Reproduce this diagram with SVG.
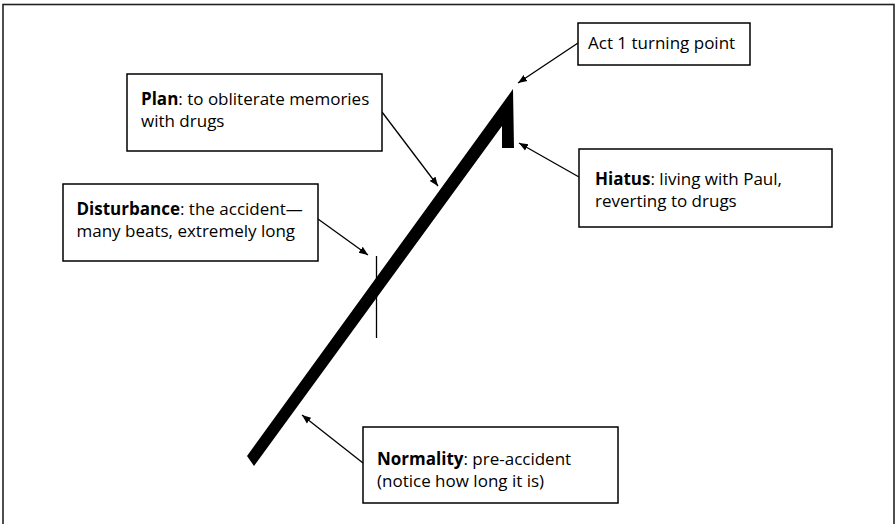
<svg xmlns="http://www.w3.org/2000/svg" width="895" height="524" viewBox="0 0 895 524">
  <defs>
    <marker id="arrow" viewBox="0 0 10 10" refX="10" refY="5" markerWidth="9" markerHeight="9" markerUnits="userSpaceOnUse" orient="auto">
      <path d="M0,1 L10,5 L0,9 Z" fill="#000"/>
    </marker>
  </defs>
  <style>
    .box { fill: #fff; stroke: #000; stroke-width: 1.5; }
    .lbl { font-family: "Open Sans", "Noto Sans", sans-serif; font-size: 17px; fill: #000; }
    .lbl tspan.b { font-weight: bold; }
    .conn { stroke: #000; stroke-width: 1.3; fill: none; marker-end: url(#arrow); }
  </style>

  <rect x="0" y="0" width="895" height="524" fill="#fff"/>
  <!-- outer frame -->
  <rect x="3" y="4.5" width="891" height="600" fill="none" stroke="#222" stroke-width="1.6"/>

  <!-- story line: long rising bar with the hiatus notch at its peak -->
  <g id="storyline">
    <polygon points="247,456 513,89 514,148 502,148 502,126 254,466" fill="#000"/>
    <line x1="376.5" y1="256" x2="376.5" y2="338" stroke="#000" stroke-width="1.3"/>
  </g>

  <g id="connectors">
    <line class="conn" x1="382" y1="112" x2="438" y2="186"/>
    <line class="conn" x1="318" y1="219" x2="368" y2="255"/>
    <line class="conn" x1="578" y1="43" x2="518" y2="83"/>
    <line class="conn" x1="579" y1="177" x2="519" y2="143"/>
    <line class="conn" x1="363" y1="463" x2="302" y2="415"/>
  </g>

  <g id="plan">
    <rect class="box" x="127" y="74" width="255" height="77"/>
    <text class="lbl" x="141" y="105"><tspan class="b">Plan</tspan>: to obliterate memories</text>
    <text class="lbl" x="141" y="126.5">with drugs</text>
  </g>

  <g id="disturbance">
    <rect class="box" x="63" y="184" width="255" height="77"/>
    <text class="lbl" x="76.5" y="215"><tspan class="b">Disturbance</tspan>: the accident—</text>
    <text class="lbl" x="76.5" y="236.5">many beats, extremely long</text>
  </g>

  <g id="turning-point">
    <rect class="box" x="578" y="23" width="172" height="42"/>
    <text class="lbl" x="588" y="49">Act 1 turning point</text>
  </g>

  <g id="hiatus">
    <rect class="box" x="579" y="149" width="253" height="78"/>
    <text class="lbl" x="595" y="185"><tspan class="b">Hiatus</tspan>: living with Paul,</text>
    <text class="lbl" x="595" y="206.5">reverting to drugs</text>
  </g>

  <g id="normality">
    <rect class="box" x="363" y="427" width="255" height="76"/>
    <text class="lbl" x="377" y="465"><tspan class="b">Normality</tspan>: pre-accident</text>
    <text class="lbl" x="377" y="486.5">(notice how long it is)</text>
  </g>
</svg>
